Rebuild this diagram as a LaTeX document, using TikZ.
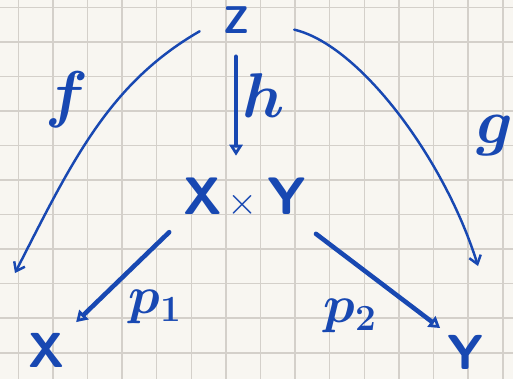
\documentclass[tikz,border=0pt]{standalone}
\usepackage{fix-cm}
\usepackage{amsmath}
\usepackage{fontspec}
\usepackage{tikz}
\usetikzlibrary{arrows.meta}
\definecolor{ink}{RGB}{24,72,178}
\definecolor{paper}{RGB}{248,246,241}
\definecolor{gridc}{RGB}{212,208,202}

\begin{document}
\begin{tikzpicture}[x=0.02cm, y=0.02cm,
  obj/.style={text=ink, font=\sffamily\bfseries\fontsize{28}{32}\selectfont, inner sep=2pt},
  lbl/.style={text=ink, font=\boldmath\fontsize{36}{40}\selectfont, inner sep=1pt},
  thin map/.style={draw=ink, line width=1.4pt, line cap=round,
    -{Straight Barb[length=1.6mm, width=2.4mm]}},
  thick map/.style={draw=ink, line width=2.6pt, line cap=round,
    -{Triangle[open, length=2.2mm, width=2.6mm]}}]
  % paper and squares
  \fill[paper] (0,0) rectangle (513,-379);
  \useasboundingbox (0,0) rectangle (513,-379);
  \foreach \i in {0,...,14}
    \draw[gridc, line width=0.9pt] ({18.3+34.6*\i},0) -- ++(0,-379);
  \foreach \j in {0,...,10}
    \draw[gridc, line width=0.9pt] (0,{-7.3-34.55*\j}) -- ++(513,0);

  % objects
  \node[obj, font=\sffamily\bfseries\fontsize{22}{26}\selectfont] (Z) at (236,-20) {Z};
  \node[obj, font=\sffamily\bfseries\fontsize{30}{34}\selectfont] (XY) at (245,-198)
    {X\hspace{0.1cm}{\fontsize{22}{26}\selectfont$\times$}\hspace{0.2cm}Y};
  \node[obj] (X) at (47,-350) {X};
  \node[obj] (Y) at (466,-352) {Y};
  \coordinate (fTip) at (15,-273);
  \coordinate (gTip) at (478,-266);

  % maps
  \draw[thin map, shorten <=0.45cm] (Z.west) to[out=210, in=63] (fTip);
  \draw[thin map, shorten <=0.85cm] (Z.east)
    .. controls (360,-45) and (445,-160) .. (gTip);
  \draw[thick map, shorten <=0.39cm, shorten >=0.37cm] (Z.south) -- (Z.south |- XY.north);
  \draw[thick map, shorten <=0.3cm, shorten >=0.2cm] (XY.south west) -- (X.north east);
  \draw[thick map, shorten <=0.4cm, shorten >=0.1cm] ([xshift=-0.2cm]XY.south east) -- (Y.north west);

  % labels
  \node[lbl] (fLbl) at (67,-100) {$f$};
  \node[lbl] (gLbl) at (495,-136) {$g$};
  \node[lbl] (hLbl) at (264,-96) {$h$};
  \node[lbl, font=\boldmath\fontsize{30}{34}\selectfont] (pOne) at (155,-307) {$p_1$};
  \node[lbl, font=\boldmath\fontsize{30}{34}\selectfont] (pTwo) at (350,-316) {$p_2$};
\end{tikzpicture}
\end{document}
